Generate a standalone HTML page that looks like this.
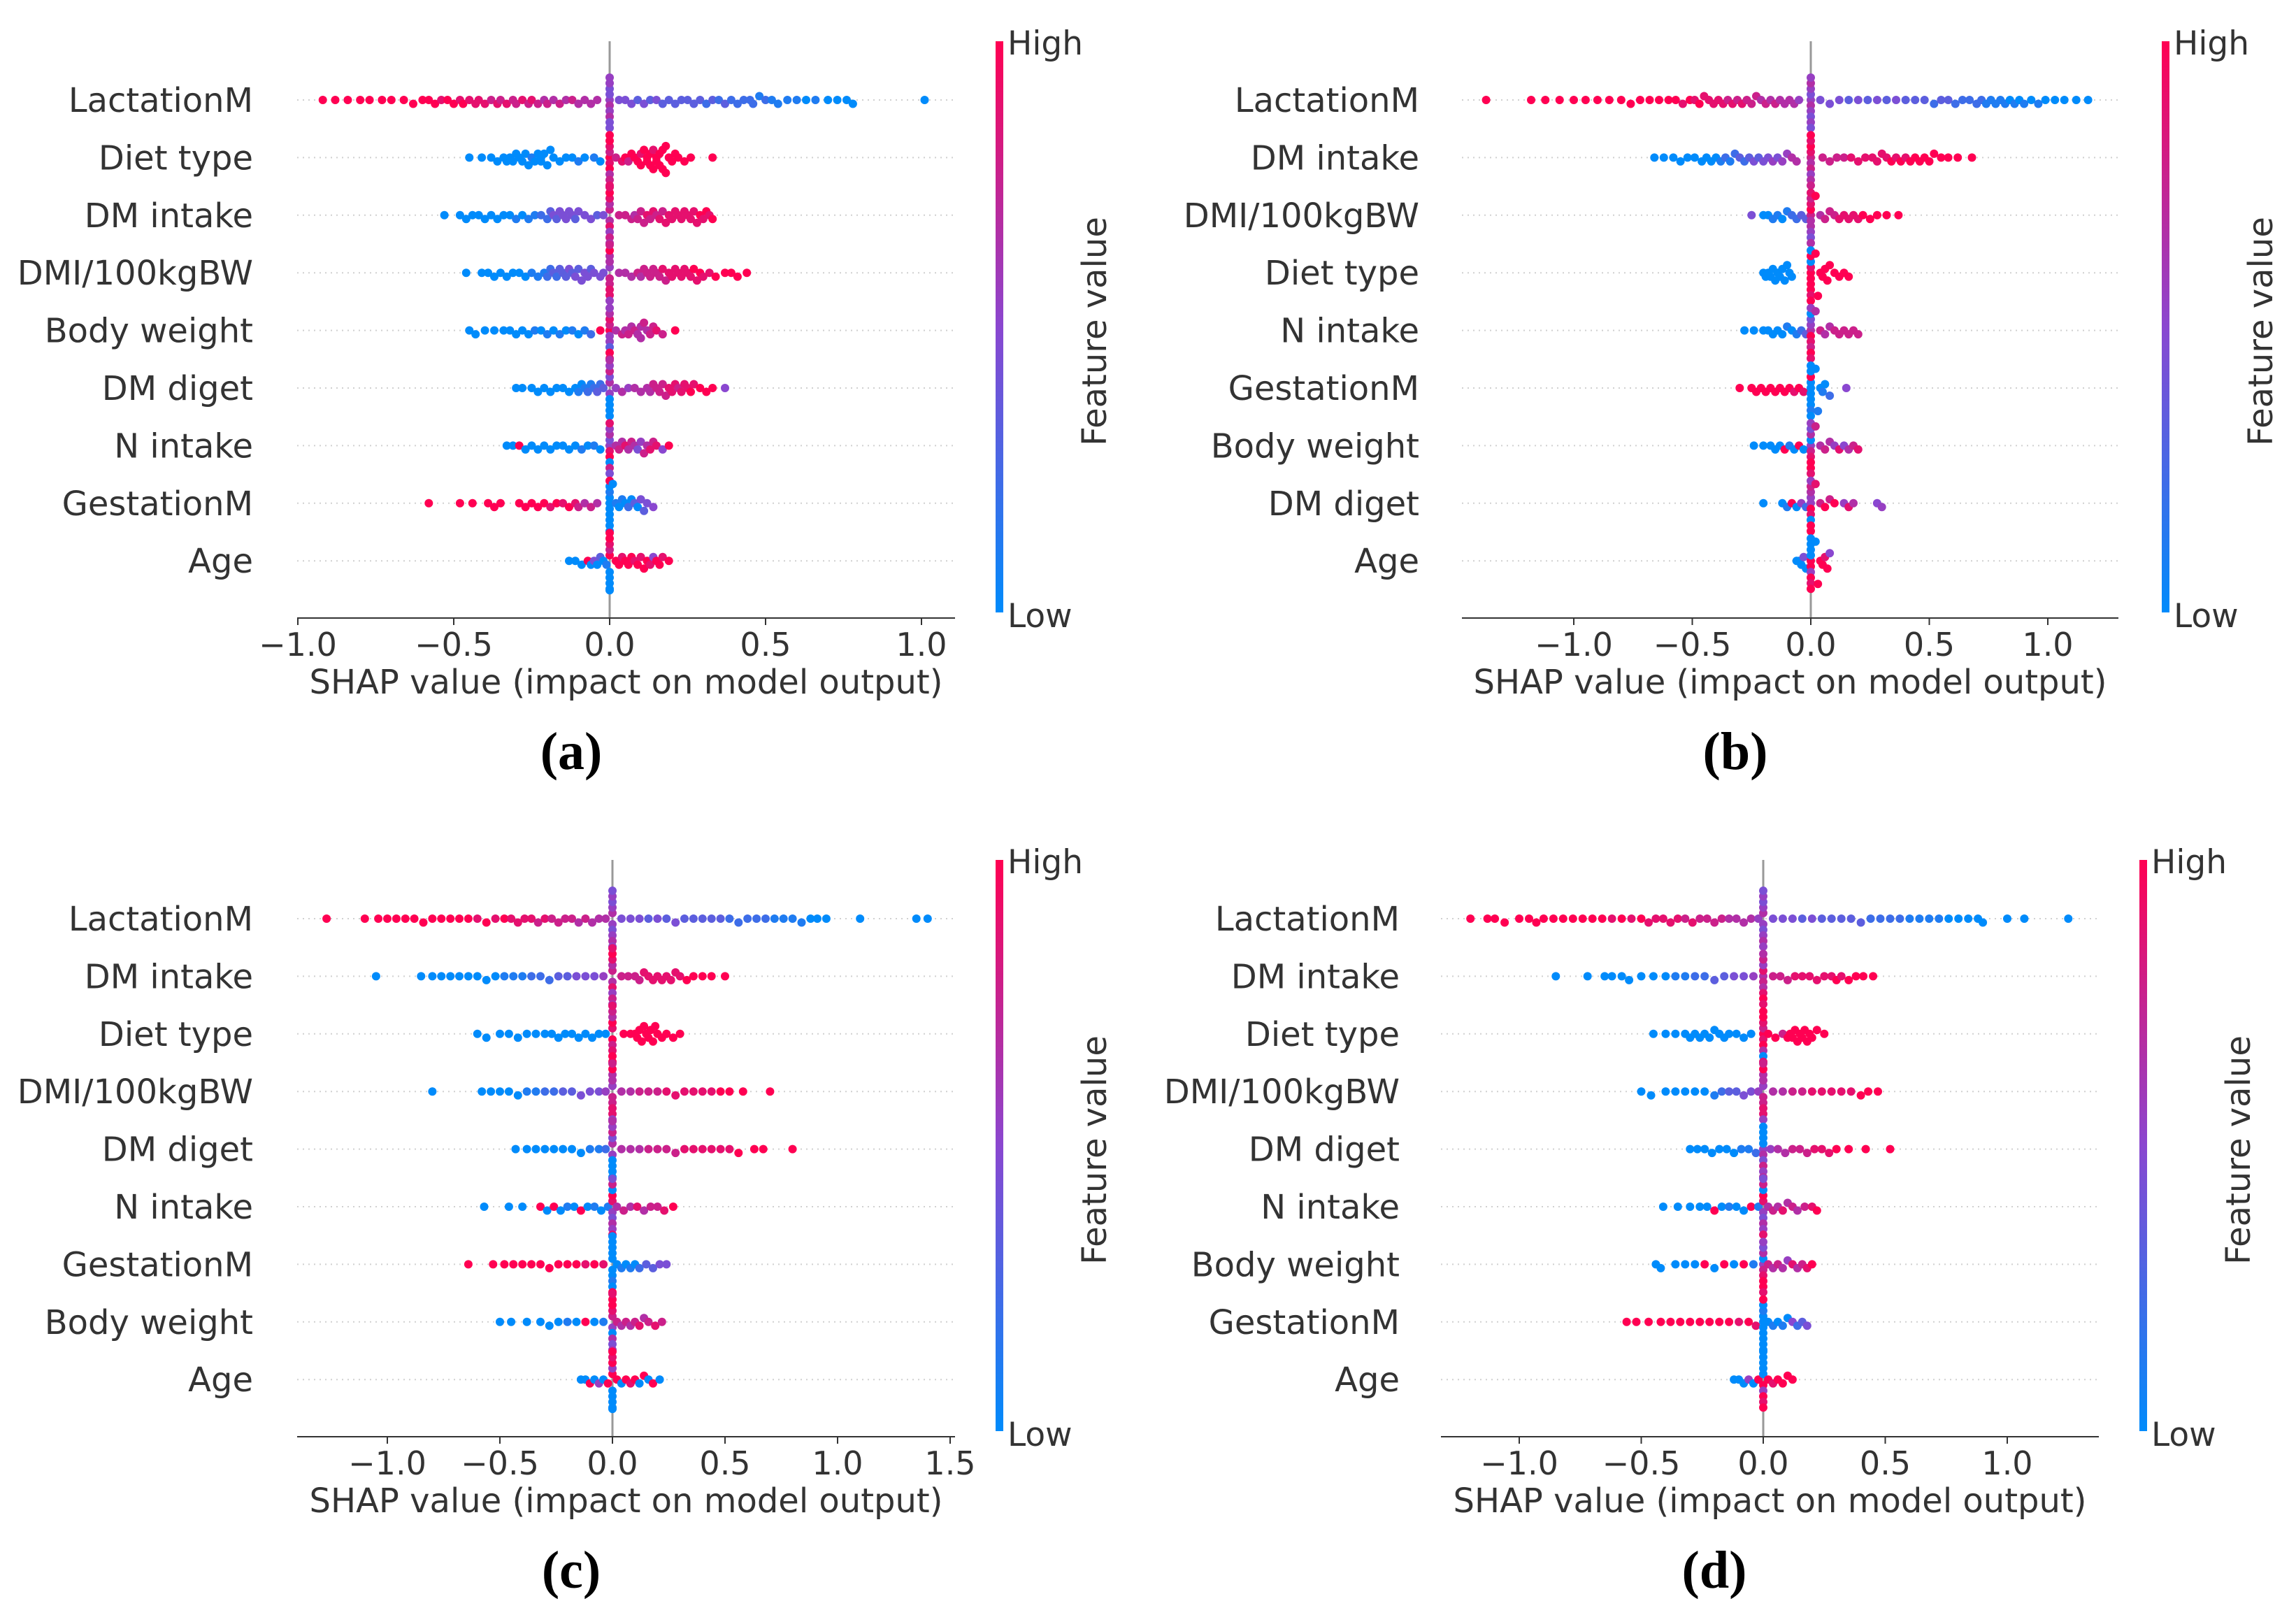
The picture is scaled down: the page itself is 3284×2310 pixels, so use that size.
<!DOCTYPE html>
<html><head><meta charset="utf-8"><style>
html,body{margin:0;padding:0;background:#fff}
svg{display:block}
text{font-family:"DejaVu Sans","Liberation Sans",sans-serif;fill:#333}
.cap{font-family:"Liberation Serif",serif;font-weight:bold;fill:#000}
</style></head><body>
<svg id="fig" width="3284" height="2310" viewBox="0 0 3284 2310" xmlns="http://www.w3.org/2000/svg">
<defs><linearGradient id="cbg" x1="0" y1="1" x2="0" y2="0">
<stop offset="0" stop-color="#008bfb"/><stop offset="0.5" stop-color="#8a47d0"/><stop offset="1" stop-color="#ff0052"/>
</linearGradient></defs>
</svg>
<script>
const featuresA=["LactationM","Diet type","DM intake","DMI/100kgBW","Body weight","DM diget","N intake","GestationM","Age"];
const shapA=[
[-0.92,-0.88,-0.84,-0.8,-0.77,-0.73,-0.7,-0.66,-0.63,-0.6,-0.58,-0.56,-0.54,-0.52,-0.5,-0.48,-0.47,-0.45,-0.43,-0.42,-0.4,-0.38,-0.36,-0.35,-0.33,-0.31,-0.3,-0.28,-0.26,-0.25,-0.23,-0.21,-0.2,-0.18,-0.16,-0.14,-0.12,-0.1,-0.08,-0.06,-0.04,0,0,0,0,0,0,0,0,0,0,0.03,0.05,0.07,0.09,0.11,0.13,0.15,0.17,0.19,0.21,0.23,0.25,0.27,0.29,0.31,0.33,0.35,0.37,0.39,0.41,0.43,0.45,0.46,0.48,0.5,0.52,0.54,0.57,0.6,0.63,0.66,0.7,0.73,0.76,0.78,1.01],
[-0.45,-0.41,-0.38,-0.36,-0.34,-0.33,-0.32,-0.31,-0.3,-0.29,-0.28,-0.27,-0.26,-0.25,-0.24,-0.23,-0.22,-0.22,-0.21,-0.2,-0.19,-0.18,-0.16,-0.14,-0.12,-0.1,-0.08,-0.05,-0.03,0,0,0,0,0,0,0,0,0,0,0.02,0.04,0.05,0.06,0.07,0.08,0.09,0.1,0.1,0.11,0.12,0.12,0.13,0.13,0.14,0.14,0.15,0.15,0.16,0.16,0.17,0.17,0.18,0.18,0.19,0.2,0.21,0.22,0.24,0.26,0.33],
[-0.53,-0.48,-0.46,-0.44,-0.42,-0.4,-0.38,-0.36,-0.34,-0.32,-0.3,-0.28,-0.26,-0.24,-0.22,-0.2,-0.19,-0.18,-0.17,-0.16,-0.15,-0.14,-0.13,-0.12,-0.11,-0.1,-0.08,-0.06,-0.04,-0.02,0,0,0,0,0,0,0,0,0,0,0.03,0.05,0.07,0.08,0.09,0.1,0.11,0.12,0.13,0.14,0.15,0.16,0.17,0.18,0.19,0.2,0.21,0.22,0.23,0.24,0.25,0.26,0.27,0.28,0.29,0.3,0.31,0.32,0.33],
[-0.46,-0.41,-0.39,-0.37,-0.35,-0.33,-0.31,-0.29,-0.27,-0.25,-0.23,-0.21,-0.2,-0.19,-0.18,-0.17,-0.16,-0.15,-0.14,-0.13,-0.12,-0.11,-0.1,-0.09,-0.08,-0.07,-0.06,-0.05,-0.03,-0.02,0,0,0,0,0,0,0,0,0,0,0.03,0.05,0.07,0.09,0.1,0.11,0.12,0.13,0.14,0.15,0.16,0.17,0.18,0.19,0.2,0.21,0.22,0.23,0.24,0.25,0.26,0.27,0.28,0.29,0.3,0.32,0.34,0.37,0.39,0.41,0.44],
[-0.45,-0.43,-0.4,-0.37,-0.34,-0.32,-0.3,-0.28,-0.26,-0.24,-0.22,-0.2,-0.18,-0.16,-0.14,-0.12,-0.1,-0.08,-0.06,-0.03,0,0,0,0,0,0,0,0,0,0,0.02,0.04,0.05,0.06,0.07,0.08,0.09,0.1,0.1,0.11,0.12,0.13,0.14,0.15,0.17,0.21],
[-0.3,-0.28,-0.25,-0.23,-0.21,-0.19,-0.17,-0.15,-0.13,-0.11,-0.1,-0.09,-0.08,-0.07,-0.06,-0.05,-0.04,-0.03,-0.02,0,0,0,0,0,0,0,0,0,0,0.02,0.04,0.06,0.08,0.1,0.12,0.13,0.14,0.15,0.16,0.17,0.18,0.19,0.2,0.21,0.22,0.23,0.24,0.25,0.26,0.27,0.29,0.31,0.33,0.37],
[-0.33,-0.31,-0.29,-0.27,-0.25,-0.23,-0.21,-0.19,-0.17,-0.15,-0.13,-0.11,-0.09,-0.07,-0.05,-0.03,0,0,0,0,0,0,0,0,0,0,0.02,0.03,0.04,0.05,0.06,0.07,0.08,0.09,0.1,0.11,0.12,0.13,0.14,0.15,0.17,0.19],
[-0.58,-0.48,-0.44,-0.39,-0.37,-0.35,-0.29,-0.27,-0.25,-0.23,-0.21,-0.19,-0.17,-0.15,-0.13,-0.11,-0.1,-0.08,-0.06,-0.04,0,0,0,0,0,0,0,0,0,0,0.01,0.02,0.03,0.04,0.05,0.06,0.07,0.08,0.09,0.1,0.11,0.12,0.14],
[-0.13,-0.11,-0.09,-0.07,-0.06,-0.05,-0.04,-0.03,-0.02,-0.01,0,0,0,0,0,0,0,0,0,0,0.02,0.03,0.04,0.05,0.06,0.07,0.08,0.09,0.1,0.11,0.12,0.13,0.14,0.15,0.16,0.17,0.19]];
const featA=[
"9999999999998998988887878778787676767666656454654544443434333333323232222212111101000000",
"00000000000001000000000001010987986979878979998999999899999999999999999",
"000000000010112234344444344434678658796877767778787878888888888898989",
"00000000011122323334343444344475768689576667677777787888888889898899999",
"0000000001010101012995758369586767676667677879",
"00000000001012123235604070506565666677777888788898999",
"0090000000001010584960578467686764576878 99",
"999999999998989876760000100090010102030434 3",
"00090403019070809090998999898998 99899"];
const featuresB=["LactationM","DM intake","DMI/100kgBW","Diet type","N intake","GestationM","Body weight","DM diget","Age"];
const shapB=[
[-1.37,-1.18,-1.12,-1.06,-1.0,-0.95,-0.9,-0.85,-0.8,-0.76,-0.72,-0.68,-0.64,-0.6,-0.57,-0.54,-0.51,-0.49,-0.47,-0.45,-0.43,-0.41,-0.39,-0.37,-0.35,-0.33,-0.31,-0.29,-0.27,-0.25,-0.23,-0.21,-0.19,-0.17,-0.15,-0.13,-0.11,-0.09,-0.07,-0.05,0,0,0,0,0,0,0,0,0,0,0.04,0.08,0.12,0.16,0.2,0.24,0.28,0.32,0.36,0.4,0.44,0.48,0.52,0.55,0.58,0.61,0.64,0.67,0.7,0.72,0.74,0.76,0.78,0.8,0.82,0.84,0.86,0.88,0.9,0.93,0.96,0.99,1.03,1.07,1.12,1.17],
[-0.66,-0.62,-0.58,-0.55,-0.52,-0.49,-0.46,-0.44,-0.42,-0.4,-0.38,-0.36,-0.34,-0.32,-0.3,-0.28,-0.26,-0.24,-0.22,-0.2,-0.18,-0.16,-0.14,-0.12,-0.1,-0.08,-0.06,0,0,0,0,0,0,0,0,0,0,0.05,0.08,0.11,0.14,0.17,0.2,0.23,0.26,0.28,0.3,0.32,0.34,0.36,0.38,0.4,0.42,0.44,0.46,0.48,0.5,0.52,0.55,0.58,0.62,0.68],
[-0.25,-0.2,-0.18,-0.16,-0.14,-0.12,-0.1,-0.08,-0.06,-0.04,-0.02,0,0,0,0,0,0,0,0,0,0,0.02,0.04,0.06,0.08,0.1,0.12,0.14,0.16,0.18,0.2,0.22,0.25,0.28,0.32,0.37],
[-0.2,-0.19,-0.18,-0.17,-0.16,-0.15,-0.14,-0.13,-0.12,-0.11,-0.1,-0.09,-0.08,0,0,0,0,0,0,0,0,0,0,0.02,0.03,0.04,0.05,0.06,0.07,0.08,0.1,0.12,0.14,0.16],
[-0.28,-0.24,-0.2,-0.18,-0.16,-0.14,-0.12,-0.1,-0.08,-0.06,-0.04,-0.02,0,0,0,0,0,0,0,0,0,0,0.02,0.04,0.06,0.08,0.1,0.12,0.14,0.16,0.18,0.2],
[-0.3,-0.25,-0.23,-0.21,-0.19,-0.17,-0.15,-0.13,-0.11,-0.09,-0.07,-0.05,-0.03,0,0,0,0,0,0,0,0,0,0,0.02,0.03,0.04,0.05,0.06,0.08,0.15],
[-0.24,-0.2,-0.17,-0.15,-0.13,-0.11,-0.09,-0.07,-0.05,-0.03,0,0,0,0,0,0,0,0,0,0,0.02,0.04,0.06,0.08,0.1,0.12,0.14,0.16,0.18,0.2],
[-0.2,-0.12,-0.1,-0.08,-0.06,-0.04,-0.02,0,0,0,0,0,0,0,0,0,0,0.02,0.04,0.06,0.08,0.1,0.14,0.16,0.18,0.28,0.3],
[-0.06,-0.05,-0.04,-0.03,-0.02,0,0,0,0,0,0,0,0,0,0,0.02,0.03,0.04,0.05,0.06,0.07,0.08]];
const featB=[
"99999999999999989898888878787776767666655645546554444343434333233222221111101010100000 0",
"000000000012123234344545566768795869777778888888989899999999999",
"4001101223376968574869677788888999999",
"0000000000000998909980999999999999",
"00000001012369584709586766777777",
"99999999998980000900100010102 4",
"00000910905708694958767658 6787",
"0019052595860795987979586 55",
"000409905090809099989 99"];
const featuresC=["LactationM","DM intake","Diet type","DMI/100kgBW","DM diget","N intake","GestationM","Body weight","Age"];
const shapC=[
[-1.27,-1.1,-1.04,-1.0,-0.96,-0.92,-0.88,-0.84,-0.8,-0.76,-0.72,-0.68,-0.64,-0.6,-0.56,-0.52,-0.48,-0.45,-0.42,-0.39,-0.36,-0.33,-0.3,-0.27,-0.24,-0.21,-0.18,-0.15,-0.12,-0.09,-0.06,-0.03,0,0,0,0,0,0,0,0,0,0,0.04,0.08,0.12,0.16,0.2,0.24,0.28,0.32,0.36,0.4,0.44,0.48,0.52,0.56,0.6,0.64,0.68,0.72,0.76,0.8,0.84,0.88,0.91,0.95,1.1,1.35,1.4],
[-1.05,-0.85,-0.8,-0.76,-0.72,-0.68,-0.64,-0.6,-0.56,-0.52,-0.48,-0.44,-0.4,-0.36,-0.32,-0.28,-0.24,-0.2,-0.16,-0.12,-0.08,-0.04,0,0,0,0,0,0,0,0,0,0,0.04,0.07,0.1,0.12,0.14,0.16,0.18,0.2,0.22,0.24,0.26,0.28,0.3,0.33,0.36,0.4,0.44,0.5],
[-0.6,-0.56,-0.5,-0.46,-0.42,-0.38,-0.34,-0.3,-0.27,-0.24,-0.21,-0.18,-0.15,-0.12,-0.09,-0.06,-0.03,0,0,0,0,0,0,0,0,0,0,0.05,0.08,0.1,0.11,0.12,0.13,0.14,0.15,0.16,0.17,0.18,0.19,0.2,0.22,0.24,0.27,0.3],
[-0.8,-0.58,-0.54,-0.5,-0.46,-0.42,-0.38,-0.34,-0.3,-0.26,-0.22,-0.18,-0.14,-0.1,-0.06,-0.03,0,0,0,0,0,0,0,0,0,0,0.04,0.08,0.12,0.16,0.2,0.24,0.28,0.32,0.36,0.4,0.44,0.48,0.52,0.58,0.7],
[-0.43,-0.38,-0.34,-0.3,-0.26,-0.22,-0.18,-0.14,-0.1,-0.06,-0.03,0,0,0,0,0,0,0,0,0,0,0.04,0.08,0.12,0.16,0.2,0.24,0.28,0.32,0.36,0.4,0.44,0.48,0.52,0.56,0.63,0.67,0.8],
[-0.57,-0.46,-0.4,-0.32,-0.29,-0.26,-0.23,-0.2,-0.17,-0.14,-0.11,-0.08,-0.05,-0.02,0,0,0,0,0,0,0,0,0,0,0.02,0.05,0.08,0.11,0.14,0.17,0.2,0.23,0.27],
[-0.64,-0.53,-0.48,-0.44,-0.4,-0.36,-0.32,-0.28,-0.24,-0.2,-0.16,-0.12,-0.08,-0.04,0,0,0,0,0,0,0,0,0,0,0.02,0.04,0.06,0.08,0.1,0.12,0.15,0.18,0.21,0.24],
[-0.5,-0.45,-0.38,-0.32,-0.28,-0.24,-0.2,-0.16,-0.12,-0.08,-0.04,0,0,0,0,0,0,0,0,0,0,0.02,0.04,0.06,0.08,0.1,0.12,0.14,0.16,0.19,0.22],
[-0.14,-0.12,-0.1,-0.08,-0.06,-0.04,-0.02,0,0,0,0,0,0,0,0,0,0,0.02,0.04,0.06,0.08,0.1,0.12,0.14,0.16,0.18,0.21]];
const featC=[
"999999999999989898888787777676665645546554444343433333222221111000000",
"00000000001112223344456786587968777788888888899999",
"00000000000000000987986979899999999999999999",
"00000011223344457576868957667778888889999",
"00000000112560407050666677778888889999",
"000909010901015849605784676867789",
"9999999999989800001000900101023344",
"0000001090157086949587676786787",
"009050990509080909098909090"];
const featuresD=["LactationM","DM intake","Diet type","DMI/100kgBW","DM diget","N intake","Body weight","GestationM","Age"];
const shapD=[
[-1.2,-1.13,-1.1,-1.06,-1.0,-0.96,-0.93,-0.9,-0.86,-0.82,-0.78,-0.74,-0.7,-0.66,-0.62,-0.58,-0.54,-0.5,-0.47,-0.44,-0.41,-0.38,-0.35,-0.32,-0.29,-0.26,-0.23,-0.2,-0.17,-0.14,-0.11,-0.08,-0.05,-0.02,0,0,0,0,0,0,0,0,0,0,0.04,0.08,0.12,0.16,0.2,0.24,0.28,0.32,0.36,0.4,0.44,0.48,0.52,0.56,0.6,0.64,0.68,0.72,0.76,0.8,0.84,0.88,0.9,1.0,1.07,1.25],
[-0.85,-0.72,-0.65,-0.62,-0.58,-0.55,-0.5,-0.45,-0.4,-0.36,-0.32,-0.28,-0.24,-0.2,-0.16,-0.12,-0.08,-0.04,0,0,0,0,0,0,0,0,0,0,0.04,0.07,0.1,0.13,0.16,0.19,0.22,0.25,0.28,0.3,0.32,0.35,0.38,0.41,0.45],
[-0.45,-0.4,-0.36,-0.32,-0.3,-0.28,-0.26,-0.24,-0.22,-0.2,-0.18,-0.16,-0.14,-0.11,-0.08,-0.05,0,0,0,0,0,0,0,0,0,0,0.02,0.05,0.08,0.1,0.11,0.12,0.13,0.14,0.15,0.16,0.17,0.18,0.19,0.2,0.22,0.25],
[-0.5,-0.46,-0.4,-0.36,-0.32,-0.28,-0.24,-0.2,-0.17,-0.14,-0.11,-0.08,-0.05,-0.02,0,0,0,0,0,0,0,0,0,0,0.04,0.08,0.12,0.16,0.2,0.24,0.28,0.32,0.36,0.4,0.43,0.47],
[-0.3,-0.27,-0.24,-0.21,-0.18,-0.15,-0.12,-0.09,-0.06,-0.03,0,0,0,0,0,0,0,0,0,0,0.03,0.06,0.09,0.12,0.15,0.18,0.21,0.24,0.27,0.3,0.35,0.42,0.52],
[-0.41,-0.35,-0.3,-0.26,-0.23,-0.2,-0.17,-0.14,-0.11,-0.08,-0.05,-0.02,0,0,0,0,0,0,0,0,0,0,0.02,0.04,0.06,0.08,0.1,0.12,0.14,0.17,0.2,0.22],
[-0.44,-0.42,-0.36,-0.32,-0.28,-0.24,-0.2,-0.16,-0.12,-0.08,-0.04,0,0,0,0,0,0,0,0,0,0,0.02,0.04,0.06,0.08,0.1,0.12,0.14,0.16,0.18,0.2],
[-0.56,-0.52,-0.47,-0.42,-0.38,-0.34,-0.3,-0.26,-0.22,-0.18,-0.14,-0.1,-0.06,-0.03,0,0,0,0,0,0,0,0,0,0,0.02,0.04,0.06,0.08,0.1,0.12,0.14,0.16,0.18],
[-0.12,-0.1,-0.08,-0.06,-0.04,-0.02,0,0,0,0,0,0,0,0,0,0,0.02,0.04,0.06,0.08,0.1,0.12]];
const featD=[
"9999999999999989898888878777766665564554655444434333332222111100000000",
"0000000001122334456786587968777888888989999",
"000000000000000098798690989979999999999999",
"000000012334457576868957667788888999",
"000000011256040705065667778889999",
"00000901009158496057846768676789",
"0000090909157086949587676586789",
"99999999999898000010009001010 2344",
"0005099050908090989999"];
const ticksA=[-1.0,-0.5,0.0,0.5,1.0];
const ticksB=[-1.0,-0.5,0.0,0.5,1.0];
const ticksC=[-1.0,-0.5,0.0,0.5,1.0,1.5];
const ticksD=[-1.0,-0.5,0.0,0.5,1.0];

const svg=document.getElementById('fig');
const NS='http://www.w3.org/2000/svg';
function mk(tag,attrs,parent){const e=document.createElementNS(NS,tag);for(const k in attrs)e.setAttribute(k,attrs[k]);(parent||svg).appendChild(e);return e;}
function lerp(a,b,t){return Math.round(a+(b-a)*t);}
function colorOf(t){
  const lo=[0,139,251],mid=[138,71,208],hi=[255,0,82];
  let c;
  if(t<0.5){const u=t/0.5;c=[lerp(lo[0],mid[0],u),lerp(lo[1],mid[1],u),lerp(lo[2],mid[2],u)];}
  else{const u=(t-0.5)/0.5;c=[lerp(mid[0],hi[0],u),lerp(mid[1],hi[1],u),lerp(mid[2],hi[2],u)];}
  return 'rgb('+c.join(',')+')';
}
function drawPanel(id,features,shap,feat,ticks,L){
  const g=mk('g',{});
  
  
  const xs=v=>L.zero+v*L.ppu;
  const rowY=i=>L.top+i*L.dy;
  features.forEach((f,i)=>{
    const ln=mk('line',{x1:L.axL,x2:L.axR,y1:rowY(i),y2:rowY(i),stroke:'#d0d0d0','stroke-width':2,'stroke-dasharray':'2,6'},g);
    
    
    const t=mk('text',{x:L.labR,y:rowY(i)+17,'text-anchor':'end','font-size':48},g);
    t.textContent=f;
    
    
  });
  const zl=mk('line',{x1:xs(0),x2:xs(0),y1:L.zTop,y2:L.base,stroke:'#999','stroke-width':3},g);
  
  
  const r=6,bw=15,step=5.5,cap=42;
  shap.forEach((vals,i)=>{
    const cols=feat[i]||'';
    const bins={};
    const pts=vals.map((v,k)=>{const x=xs(v);const b=Math.round(x/bw);bins[b]=(bins[b]||0)+1;const n=bins[b]-1;
      const st=(v===0)?8:step;
      let off=Math.ceil(n/2)*st*(n%2?1:-1);off=Math.max(-cap,Math.min(cap,off));
      const ch=cols[k];const fv=(ch&&ch!==' ')?(+ch)/9:0.5;return {x,y:rowY(i)+off,fv};});
    pts.forEach(p=>{
      const c=mk('circle',{cx:p.x.toFixed(1),cy:p.y.toFixed(1),r:r,fill:colorOf(p.fv)},g);
      
      
    });
  });
  const ax=mk('line',{x1:L.axL,x2:L.axR,y1:L.base,y2:L.base,stroke:'#333','stroke-width':2},g);
  
  
  ticks.forEach(tv=>{
    const tk=mk('line',{x1:xs(tv),x2:xs(tv),y1:L.base,y2:L.base+10,stroke:'#333','stroke-width':2},g);
    
    
    const tl=mk('text',{x:xs(tv),y:L.base+54,'text-anchor':'middle','font-size':46},g);
    tl.textContent=(tv<0?'\u2212':'')+Math.abs(tv).toFixed(1);
    
    
  });
  const xl=mk('text',{x:(L.axL+L.axR)/2,y:L.base+108,'text-anchor':'middle','font-size':48},g);
  xl.textContent='SHAP value (impact on model output)';
  
  
  const cb=mk('rect',{x:L.cbX,y:L.top-84,width:11,height:817,fill:'url(#cbg)'},g);
  
  
  const hi=mk('text',{x:L.cbX+17,y:L.top-65,'font-size':47},g);hi.textContent='High';
  
  
  const lo=mk('text',{x:L.cbX+17,y:L.top+754,'font-size':47},g);lo.textContent='Low';
  
  
  const fvx=L.cbX+158,fvy=L.top+331;
  const fv=mk('text',{x:fvx,y:fvy,'text-anchor':'middle','font-size':48,transform:'rotate(-90 '+fvx+' '+fvy+')'},g);
  fv.textContent='Feature value';
  
  
  const cp=mk('text',{x:L.capX,y:L.base+216,'text-anchor':'middle','font-size':76,'class':'cap'},g);
  cp.textContent='('+id+')';
  
  
}
const dy=82.4;
drawPanel('a',featuresA,shapA,featA,ticksA,{zero:872,ppu:446,axL:425,axR:1366,top:143,dy:dy,base:884,zTop:59,labR:362,cbX:1424,capX:817});
drawPanel('b',featuresB,shapB,featB,ticksB,{zero:2590,ppu:339,axL:2091,axR:3030,top:143,dy:dy,base:884,zTop:59,labR:2030,cbX:3092,capX:2482});
drawPanel('c',featuresC,shapC,featC,ticksC,{zero:876,ppu:322,axL:425,axR:1366,top:1314,dy:dy,base:2055,zTop:1230,labR:362,cbX:1424,capX:817});
drawPanel('d',featuresD,shapD,featD,ticksD,{zero:2522,ppu:349,axL:2061,axR:3002,top:1314,dy:dy,base:2055,zTop:1230,labR:2002,cbX:3060,capX:2452});
</script>
</body></html>
